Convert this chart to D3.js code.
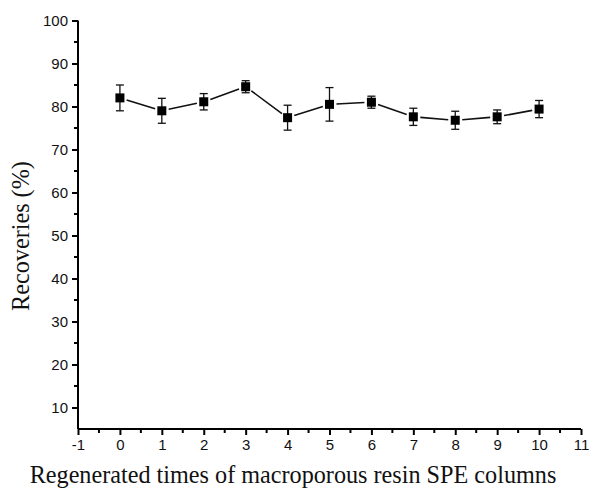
<!doctype html>
<html>
<head>
<meta charset="utf-8">
<title>Recoveries</title>
<style>
  body { margin: 0; background: #fff; }
  svg { display: block; }
</style>
</head>
<body>
<div id="here"></div>
<script src="https://d3js.org/d3.v7.min.js"></script>
<script>
// regenerated times (x) and recoveries (%) with error bars
var times = [0, 1, 2, 3, 4, 5, 6, 7, 8, 9, 10];
var recoveries = [82.0, 79.0, 81.1, 84.6, 77.4, 80.5, 81.0, 77.6, 76.8, 77.6, 79.4];
var errors = [3.0, 2.9, 1.9, 1.4, 2.9, 3.9, 1.4, 2.0, 2.1, 1.6, 2.0];
var xTicks = [-1, 0, 1, 2, 3, 4, 5, 6, 7, 8, 9, 10, 11];
var yTicks = [10, 20, 30, 40, 50, 60, 70, 80, 90, 100];

var w = 590, h = 489;
var mLeft = 78, mRight = 581, mTop = 20.5, mBottom = 429;

var svg = d3.select("#here").append("svg")
  .attr("width", w)
  .attr("height", h);

var x = d3.scaleLinear().domain([-1, 11]).range([mLeft, mRight]);
var y = d3.scaleLinear().domain([5, 100]).range([mBottom, mTop]);

// minor ticks every half step
var xMinor = d3.range(-0.5, 11, 1);
var yMinor = d3.range(15, 100, 10);

var tickFont = "Liberation Sans, Arial, sans-serif";
var fmt = function(d) { return String(d); };

// x axis
var gx = svg.append("g").attr("transform", "translate(0," + mBottom + ")");
gx.call(d3.axisBottom(x).tickValues(xTicks).tickSize(6).tickPadding(4).tickFormat(fmt));
gx.selectAll(".tick line").attr("stroke-width", 2);
gx.select(".domain").attr("stroke-width", 2).attr("d", "M" + mLeft + ",0H" + mRight);
gx.selectAll(".tick text").style("font-family", tickFont).style("font-size", "15px").attr("fill", "#111");
gx.selectAll(".minor").data(xMinor).enter().append("line")
  .attr("x1", function(d) { return x(d); })
  .attr("x2", function(d) { return x(d); })
  .attr("y1", 0).attr("y2", 4)
  .attr("stroke", "#000").attr("stroke-width", 2);

// y axis
var gy = svg.append("g").attr("transform", "translate(" + mLeft + ",0)");
gy.call(d3.axisLeft(y).tickValues(yTicks).tickSize(6).tickPadding(4).tickFormat(fmt));
gy.selectAll(".tick line").attr("stroke-width", 2);
gy.select(".domain").attr("stroke-width", 2).attr("d", "M0," + mBottom + "V" + mTop);
gy.selectAll(".tick text").style("font-family", tickFont).style("font-size", "15px").attr("fill", "#111");
gy.selectAll(".minor").data(yMinor).enter().append("line")
  .attr("y1", function(d) { return y(d); })
  .attr("y2", function(d) { return y(d); })
  .attr("x1", 0).attr("x2", -4)
  .attr("stroke", "#000").attr("stroke-width", 2);

// axis titles
svg.append("text")
  .attr("x", 293).attr("y", 483)
  .attr("text-anchor", "middle")
  .style("font-family", "Liberation Serif, Times New Roman, serif")
  .style("font-size", "24.2px")
  .attr("fill", "#111")
  .text("Regenerated times of macroporous resin SPE columns");

svg.append("text")
  .attr("transform", "translate(29,236) rotate(-90)")
  .attr("text-anchor", "middle")
  .style("font-family", "Liberation Serif, Times New Roman, serif")
  .style("font-size", "24.2px")
  .attr("fill", "#111")
  .text("Recoveries (%)");

var data = times.map(function(t, i) { return {t: t, v: recoveries[i], e: errors[i]}; });

// connecting line segments with gaps around markers
var gap = 7;
var segs = d3.pairs(data);
svg.selectAll(".seg").data(segs).enter().append("line")
  .attr("class", "seg")
  .each(function(p) {
    var x1 = x(p[0].t), y1 = y(p[0].v), x2 = x(p[1].t), y2 = y(p[1].v);
    var dx = x2 - x1, dy = y2 - y1, len = Math.sqrt(dx * dx + dy * dy);
    var ux = dx / len, uy = dy / len;
    d3.select(this)
      .attr("x1", x1 + ux * gap).attr("y1", y1 + uy * gap)
      .attr("x2", x2 - ux * gap).attr("y2", y2 - uy * gap);
  })
  .attr("stroke", "#111").attr("stroke-width", 1.6);

// error bars
var eb = svg.selectAll(".eb").data(data).enter().append("g").attr("class", "eb");
eb.append("line")
  .attr("x1", function(d) { return x(d.t); })
  .attr("x2", function(d) { return x(d.t); })
  .attr("y1", function(d) { return y(d.v + d.e); })
  .attr("y2", function(d) { return y(d.v - d.e); })
  .attr("stroke", "#111").attr("stroke-width", 1.3);
eb.append("line")
  .attr("x1", function(d) { return x(d.t) - 4; })
  .attr("x2", function(d) { return x(d.t) + 4; })
  .attr("y1", function(d) { return y(d.v + d.e); })
  .attr("y2", function(d) { return y(d.v + d.e); })
  .attr("stroke", "#111").attr("stroke-width", 1.3);
eb.append("line")
  .attr("x1", function(d) { return x(d.t) - 4; })
  .attr("x2", function(d) { return x(d.t) + 4; })
  .attr("y1", function(d) { return y(d.v - d.e); })
  .attr("y2", function(d) { return y(d.v - d.e); })
  .attr("stroke", "#111").attr("stroke-width", 1.3);

// square markers
svg.selectAll(".pt").data(data).enter().append("rect")
  .attr("class", "pt")
  .attr("x", function(d) { return x(d.t) - 4.5; })
  .attr("y", function(d) { return y(d.v) - 4.5; })
  .attr("width", 9).attr("height", 9)
  .attr("fill", "#000");
</script>
</body>
</html>
